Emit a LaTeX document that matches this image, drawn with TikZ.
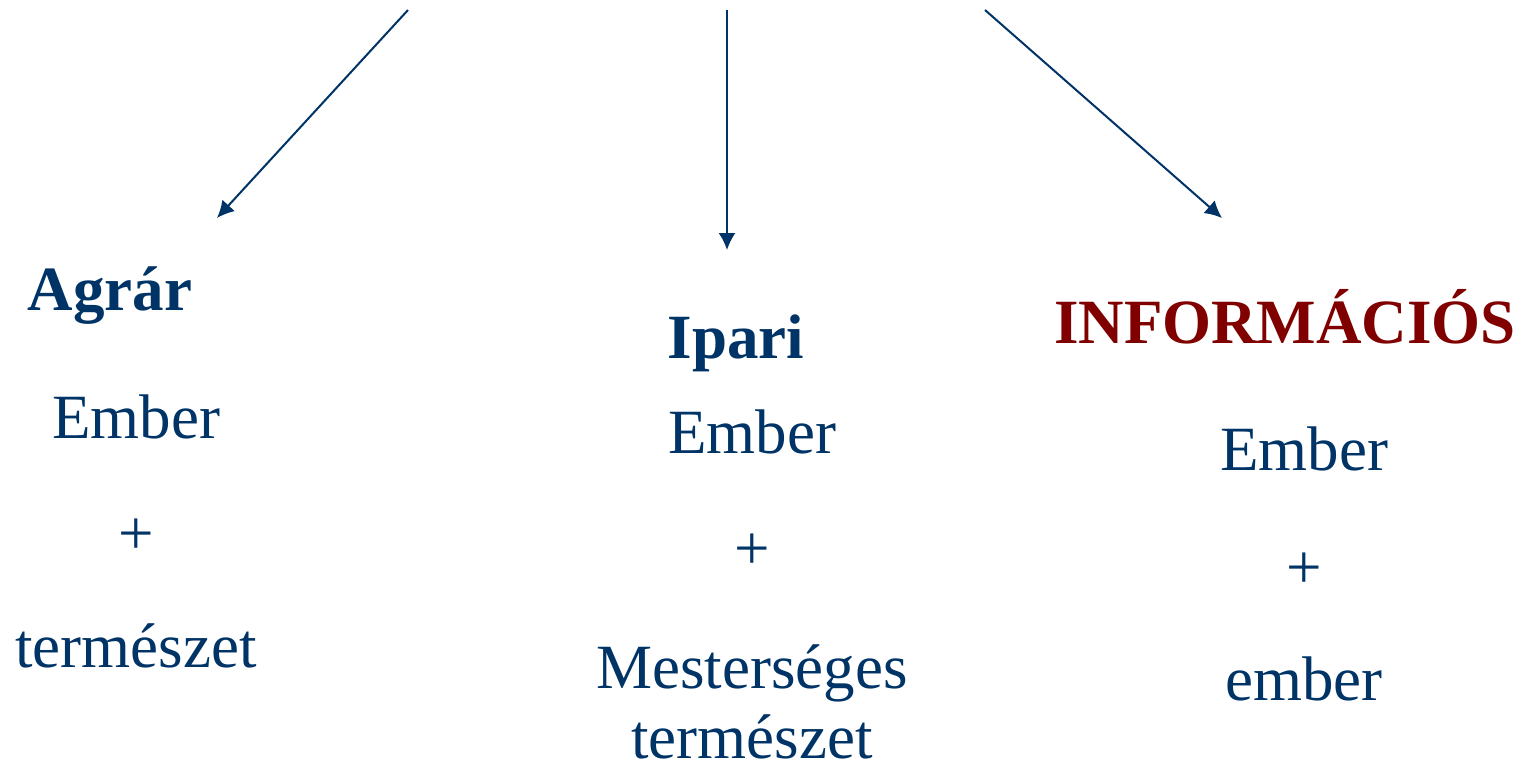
\documentclass[tikz,border=0pt]{standalone}
\usepackage{fontspec}
\setmainfont{Liberation Serif}
\usetikzlibrary{positioning,arrows.meta}
\definecolor{navy}{HTML}{003366}
\definecolor{darkred}{HTML}{800000}

\begin{document}
\begin{tikzpicture}[
        x=0.5pt, y=-0.5pt,
        txt/.style={anchor=base, inner sep=0pt, text=navy, font=\fontsize{31.5}{36}\selectfont},
        head/.style={txt, font=\fontsize{31.5}{36}\selectfont\bfseries},
        head-highlight/.style={head, text=darkred},
        arrow/.style={-{Latex[length=8.5pt, width=8.5pt]}, draw=navy, line width=1pt}
    ]
    \useasboundingbox (0,0) rectangle (1535,768);

    % Arrow ends
    \coordinate (from1) at (408,10);
    \coordinate (to1) at (217,218);
    \coordinate (from2) at (727,10);
    \coordinate (to2) at (727,250);
    \coordinate (from3) at (985,10);
    \coordinate (to3) at (1222,218);

    % First column
    \node[head] (agrar) at (110,310) {Agrár};
    \node[txt] (ember1) at (136,438) {Ember};
    \node[txt] (plus1) at (136,554) {+};
    \node[txt] (term1) at (136,667) {természet};

    % Second column
    \node[head] (ipari) at (736,358) {Ipari};
    \node[txt] (ember2) at (752,453) {Ember};
    \node[txt] (plus2) at (752,569) {+};
    \node[txt] (mest2) at (752,688) {Mesterséges};
    \node[txt] (term2) at (752,758) {természet};

    % Third column
    \node[head-highlight] (info) at (1285,343) {INFORMÁCIÓS};
    \node[txt] (ember3) at (1304,470) {Ember};
    \node[txt] (plus3) at (1304,588) {+};
    \node[txt] (ember3b) at (1304,700) {ember};

    % Define connections
    \draw[arrow] (from1) -- (to1);
    \draw[arrow] (from2) -- (to2);
    \draw[arrow] (from3) -- (to3);

\end{tikzpicture}
\end{document}
